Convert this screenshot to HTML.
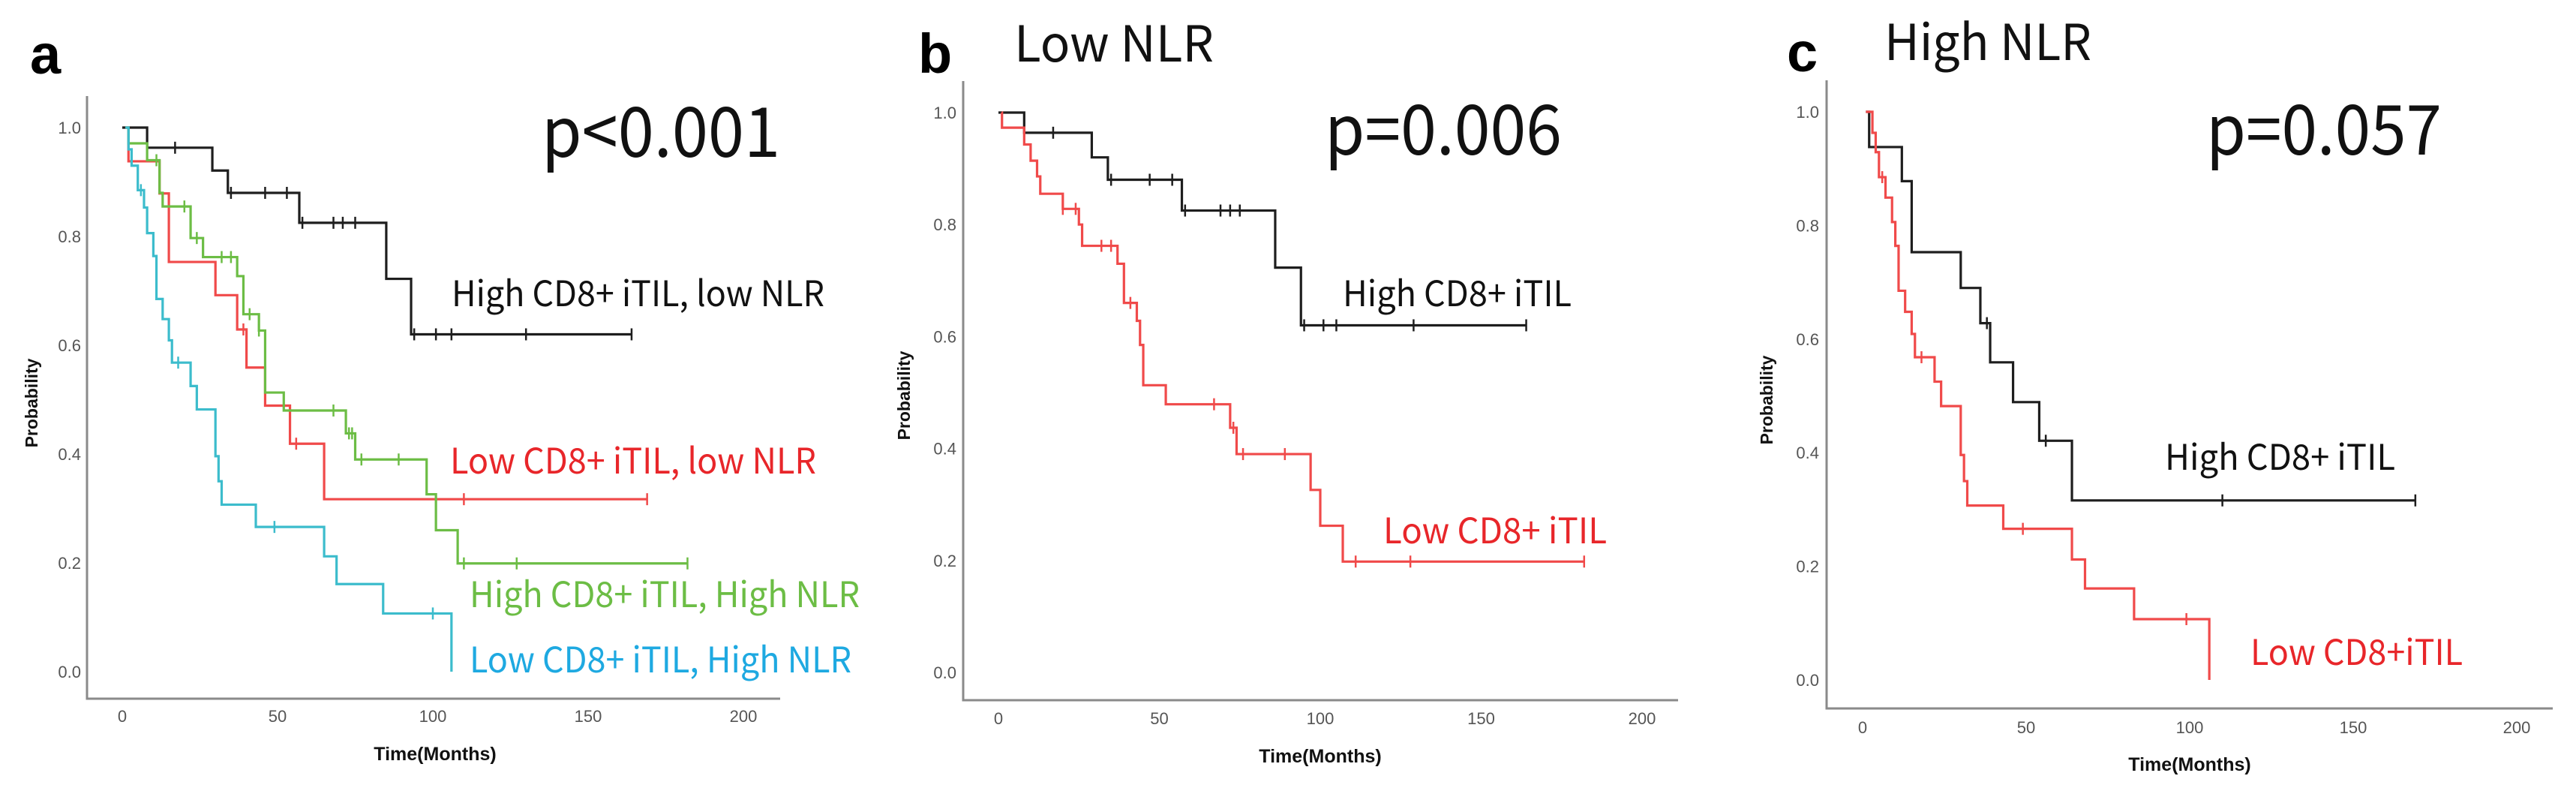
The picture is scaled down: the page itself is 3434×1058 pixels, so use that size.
<!DOCTYPE html>
<html><head><meta charset="utf-8"><style>
html,body{margin:0;padding:0;background:#fff;}
svg{display:block;font-family:"Liberation Sans",sans-serif;}
.cjk{font-family:"Noto Sans CJK JP","Liberation Sans",sans-serif;}
</style></head><body>
<svg id="fig" width="3434" height="1058" viewBox="0 0 3434 1058"></svg>
<script>
// ---- Panel a data ----
const aBlackT=[0,8,29,34,57,85,93], aBlackS=[1,0.963,0.921,0.88,0.825,0.722,0.62], aBlackC=[17,35,46,53,58,68,71,75,94,101,106,130,164], aBlackEnd=164;
const aRedT=[1,2,12,15,30,37,40,46,54,65], aRedS=[1,0.938,0.879,0.753,0.692,0.629,0.559,0.489,0.419,0.317], aRedC=[39,56,110,169], aRedEnd=169;
const aGreenT=[1,2,8,12,13,22,26,37,39,44,46,52,72,75,98,101,108], aGreenS=[1,0.971,0.94,0.88,0.855,0.797,0.762,0.727,0.657,0.627,0.513,0.48,0.438,0.39,0.326,0.26,0.199], aGreenC=[11,20,24,32,35,41,44,68,73,74,77,89,110,127,182], aGreenEnd=182;
const aCyanT=[1,2,3,5,7,8,10,11,13,15,16,22,24,30,31,32,43,65,69,84,106], aCyanS=[1,0.96,0.93,0.885,0.853,0.806,0.764,0.685,0.648,0.609,0.568,0.525,0.482,0.396,0.35,0.307,0.266,0.212,0.161,0.107,0], aCyanC=[6,18,49,100], aCyanEnd=106;
// ---- Panel b data ----
const bBlackT=[0,8,29,34,57,86,94], bBlackS=[1,0.964,0.92,0.88,0.825,0.723,0.62], bBlackC=[17,35,47,54,58,69,72,75,95,101,105,129,164], bBlackEnd=164;
const bRedT=[1,1.1,8,10,12,13,20,25,26,37,39,43,44,45,52,72,74,97,100,107], bRedS=[1,0.973,0.943,0.914,0.886,0.855,0.828,0.8,0.762,0.73,0.66,0.628,0.585,0.513,0.479,0.437,0.39,0.326,0.262,0.198], bRedC=[20,24,32,35,41,67,73,76,89,111,128,182], bRedEnd=182;
// ---- Panel c data ----
const cBlackT=[1,2,12,15,30,36,39,46,54,64], cBlackS=[1,0.938,0.878,0.753,0.69,0.628,0.559,0.489,0.421,0.316], cBlackC=[38,56,110,169], cBlackEnd=169;
const cRedT=[1,3,4,5,7,9,10,11,13,15,16,22,24,30,31,32,43,64,68,83,106], cRedS=[1,0.963,0.929,0.885,0.849,0.806,0.764,0.685,0.648,0.609,0.568,0.525,0.482,0.396,0.35,0.307,0.266,0.212,0.161,0.107,0], cRedC=[6,18,49,99], cRedEnd=106;
const xTicks=[0,50,100,150,200], yTicks=[0,0.2,0.4,0.6,0.8,1.0], yTickLabels=["0.0","0.2","0.4","0.6","0.8","1.0"];

const NS="http://www.w3.org/2000/svg", svg=document.getElementById('fig');
function mk(tag,attrs,parent,text){const e=document.createElementNS(NS,tag);for(const k in attrs)e.setAttribute(k,attrs[k]);if(text!==undefined)e.textContent=text;(parent||svg).appendChild(e);return e;}

function panel(p){
  const g=mk('g',{});
  
  
  const X=t=>p.x0+t*p.kx, Y=s=>p.y0-s*p.ky;
  const ax=mk('path',{d:`M${p.axL},${p.axT}V${p.axB}H${p.axR}`,fill:'none',stroke:'#8a8a8a','stroke-width':3},g);
  
  
  xTicks.forEach(v=>{const t=mk('text',{x:X(v),y:p.xlY,'text-anchor':'middle','font-size':22,fill:'#555'},g,String(v));
    
    });
  yTicks.forEach((v,i)=>{const t=mk('text',{x:p.ylX,y:Y(v)+8,'text-anchor':'end','font-size':22,fill:'#555'},g,yTickLabels[i]);
    
    });
  const yt=mk('text',{x:0,y:0,transform:`translate(${p.ytX},${p.ytY}) rotate(-90)`,'text-anchor':'middle','font-size':23,'font-weight':'bold',fill:'#111'},g,'Probability');
  
  
  const xt=mk('text',{x:p.xtX,y:p.xtY,'text-anchor':'middle','font-size':25,'font-weight':'bold',fill:'#111'},g,'Time(Months)');
  
  
  p.series.forEach(s=>{
    let d=`M${X(s.T[0])},${Y(s.S[0])}`;
    for(let i=1;i<s.T.length;i++){d+=`H${X(s.T[i])}V${Y(s.S[i])}`;}
    d+=`H${X(s.end)}`;
    const path=mk('path',{d:d,fill:'none',stroke:s.color,'stroke-width':3.2},g);
    
    
    s.C.forEach(c=>{let v=s.S[0];for(let i=0;i<s.T.length;i++){if(s.T[i]<=c)v=s.S[i];}
      const tk=mk('line',{x1:X(c),x2:X(c),y1:Y(v)-8,y2:Y(v)+8,stroke:s.color,'stroke-width':2.5},g);
      
      });
  });
  p.labels.forEach(l=>{const t=mk('text',{x:l.x,y:l.y,'font-size':47,fill:l.c,'class':'cjk',textLength:l.w,lengthAdjust:'spacingAndGlyphs'},g,l.t);
    
    });
  const pv=mk('text',{x:p.pX,y:p.pY,'font-size':92,fill:'#111','class':'cjk','textLength':p.pW,lengthAdjust:'spacingAndGlyphs'},g,p.pText);
  
  
  const lt=mk('text',{x:p.letX,y:p.letY,'font-size':74,'font-weight':'bold',fill:'#000'},g,p.id);
  
  
  if(p.title){const tt=mk('text',{x:p.tX,y:p.tY,'font-size':66,fill:'#111','class':'cjk',textLength:p.tW,lengthAdjust:'spacingAndGlyphs'},g,p.title);
    
    }
}
const BK='#1e1e1e', RD='#f04a4a', GR='#6cbd45', CY='#3cbccc';
panel({id:'a',x0:163,kx:4.14,y0:895,ky:725,axL:116,axT:128,axB:931,axR:1040,xlY:962,ylX:108,ytX:50,ytY:537,xtX:580,xtY:1013,
  pX:722,pY:209,pW:318,pText:'p<0.001',letX:40,letY:98,
  series:[{name:'a-high-low',T:aBlackT,S:aBlackS,C:aBlackC,end:aBlackEnd,color:BK},
          {name:'a-low-low',T:aRedT,S:aRedS,C:aRedC,end:aRedEnd,color:RD},
          {name:'a-high-high',T:aGreenT,S:aGreenS,C:aGreenC,end:aGreenEnd,color:GR},
          {name:'a-low-high',T:aCyanT,S:aCyanS,C:aCyanC,end:aCyanEnd,color:CY}],
  labels:[{x:602,y:408,t:'High CD8+ iTIL, low NLR',c:'#111',w:497},{x:600,y:631,t:'Low CD8+ iTIL, low NLR',c:'#e8262a',w:488},
          {x:626,y:809,t:'High CD8+ iTIL, High NLR',c:'#6cbd45',w:520},{x:626,y:896,t:'Low CD8+ iTIL, High NLR',c:'#1ea9e1',w:509}]});
panel({id:'b',x0:1331,kx:4.29,y0:896,ky:746,axL:1284,axT:108,axB:933,axR:2237,xlY:965,ylX:1275,ytX:1213,ytY:527,xtX:1760,xtY:1016,
  pX:1766,pY:206,pW:316,pText:'p=0.006',letX:1224,letY:97,title:'Low NLR',tX:1352,tY:82,tW:266,
  series:[{name:'b-high',T:bBlackT,S:bBlackS,C:bBlackC,end:bBlackEnd,color:BK},
          {name:'b-low',T:bRedT,S:bRedS,C:bRedC,end:bRedEnd,color:RD}],
  labels:[{x:1790,y:408,t:'High CD8+ iTIL',c:'#111',w:305},{x:1844,y:724,t:'Low CD8+ iTIL',c:'#e8262a',w:298}]});
panel({id:'c',x0:2483,kx:4.36,y0:906,ky:757,axL:2435,axT:107,axB:944,axR:3403,xlY:977,ylX:2425,ytX:2363,ytY:533,xtX:2919,xtY:1027,
  pX:2941,pY:206,pW:314,pText:'p=0.057',letX:2382,letY:95,title:'High NLR',tX:2512,tY:80,tW:276,
  series:[{name:'c-high',T:cBlackT,S:cBlackS,C:cBlackC,end:cBlackEnd,color:BK},
          {name:'c-low',T:cRedT,S:cRedS,C:cRedC,end:cRedEnd,color:RD}],
  labels:[{x:2886,y:626,t:'High CD8+ iTIL',c:'#111',w:307},{x:3000,y:886,t:'Low CD8+iTIL',c:'#e8262a',w:283}]});
</script>
</body></html>
